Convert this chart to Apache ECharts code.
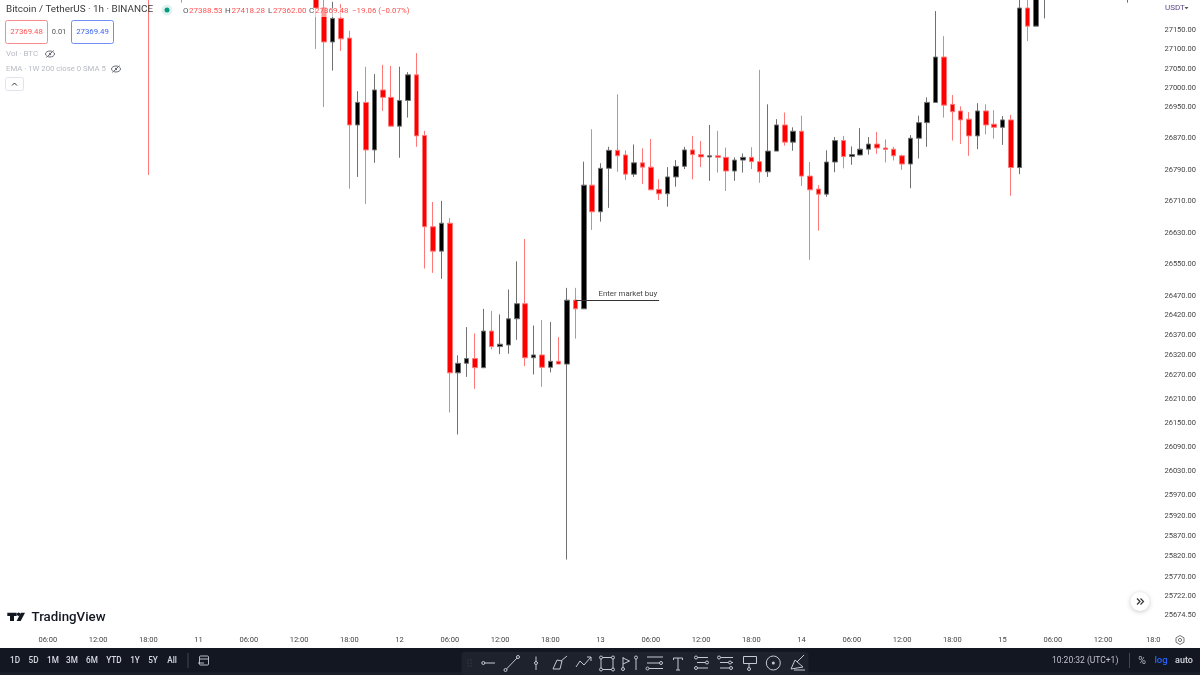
<!DOCTYPE html>
<html>
<head>
<meta charset="utf-8">
<title>BTCUSDT 1h</title>
<script src="https://cdn.jsdelivr.net/npm/echarts@6/dist/echarts.min.js"></script>
<style>
  html, body { margin: 0; padding: 0; background: #fff; }
  #chart { width: 1200px; height: 675px; }
</style>
</head>
<body>
<div id="chart"></div>
<script>
// price ticks on the right hand scale
const priceTicks = [27150, 27100, 27050, 27000, 26950, 26870, 26790, 26710, 26630, 26550, 26470, 26420, 26370,
  26320, 26270, 26210, 26150, 26090, 26030, 25970, 25920, 25870, 25820, 25770, 25722, 25674.5]

// time labels by hour slot, the last one is cut by the price scale in the reference
const timeTicks = {
  5: '06:00', 11: '12:00', 17: '18:00', 23: '11', 29: '06:00', 35: '12:00', 41: '18:00', 47: '12',
  53: '06:00', 59: '12:00', 65: '18:00', 71: '13', 77: '06:00', 83: '12:00', 89: '18:00', 95: '14',
  101: '06:00', 107: '12:00', 113: '18:00', 119: '15', 125: '06:00', 131: '12:00', 137: '18:0'
}

const hourSlots = 138
const firstCandle = 17 // slot of the first candle in the lists below

// hourly candles, null = bar not visible in the picture
const opens = [27330, null, null, null, 27300, null, null, null, null, null, null, null, null, null, null, null, null, null, null, null,
  27290, 27207, 27119, 27180, 27129, 26905, 26963, 26841, 26995, 26976, 26902, 26968, 27034, 26878, 26645, 26583, 26654,
  26276, 26300, 26312, 26289, 26381, 26342, 26346, 26412, 26450, 26314, 26321, 26290, 26305, 26298, 26459, 26437, 26751,
  26683, 26794, 26840, 26828, 26779, 26808, 26797, 26740, 26729, 26772, 26799, 26841, 26829, 26823, 26826, 26822, 26787, 26815, 26822, 26811,
  26785, 26838, 26905, 26861, 26889, 26774, 26741, 26728, 26810, 26865, 26824, 26828, 26843, 26856, 26846, 26843, 26826, 26805, 26871, 26911,
  26963, 27080, 26958, 26941, 26920, 26877, 26941, 26907, 26899, 26918, 26796, 27207, 27160, 27240,
  null, null, null, null, null, null, null, null, null, 27260]
const closes = [27260, null, null, null, 27260, null, null, null, null, null, null, null, null, null, null, null, null, null, null, null,
  27207, 27119, 27180, 27127, 26905, 26963, 26841, 26995, 26976, 26902, 26968, 27034, 26877, 26645, 26583, 26654, 26276,
  26300, 26312, 26289, 26381, 26342, 26348, 26412, 26450, 26314, 26321, 26290, 26305, 26298, 26459, 26437, 26751, 26683,
  26794, 26840, 26826, 26779, 26808, 26797, 26739, 26729, 26772, 26799, 26841, 26829, 26823, 26826, 26822, 26787, 26815, 26822, 26811, 26785,
  26838, 26905, 26861, 26889, 26774, 26739, 26728, 26810, 26865, 26824, 26829, 26843, 26856, 26846, 26842, 26826, 26805, 26871, 26911, 26963,
  27080, 26956, 26939, 26918, 26877, 26941, 26905, 26899, 26918, 26796, 27207, 27160, 27290, 27320,
  null, null, null, null, null, null, null, null, null, 27290]
const lows = [26777, null, null, null, 27221, null, null, null, null, null, null, null, null, null, null, null, null, null, null, null,
  27101, 26951, 27045, 27096, 26742, 26772, 26703, 26808, 26941, 26902, 26821, 26924, 26849, 26539, 26528, 26513, 26177,
  26122, 26266, 26236, 26289, 26335, 26323, 26324, 26359, 26293, 26272, 26241, 26277, 26298, 25812, 26362, 26437, 26637,
  26658, 26693, 26785, 26764, 26772, 26754, 26739, 26713, 26696, 26747, 26792, 26766, 26797, 26762, 26783, 26736, 26762, 26783, 26792, 26757,
  26772, 26838, 26852, 26839, 26749, 26561, 26635, 26721, 26784, 26794, 26803, 26827, 26829, 26831, 26809, 26814, 26790, 26743, 26819, 26849,
  26963, 26924, 26865, 26856, 26826, 26843, 26881, 26870, 26854, 26724, 26779, 27121, 27160, 27180,
  null, null, null, null, null, null, null, null, null, 27221]
const highs = [27360, null, null, null, 27320, null, null, null, null, null, null, null, null, null, null, null, null, null, null, null,
  27320, 27250, 27223, 27217, 27148, 26992, 27055, 27036, 27060, 27057, 27055, 27041, 27090, 26890, 26708, 26711, 26667,
  26320, 26391, 26375, 26437, 26432, 26423, 26486, 26557, 26614, 26395, 26409, 26404, 26366, 26490, 26490, 26811, 26894,
  26807, 26849, 26984, 26840, 26855, 26845, 26869, 26766, 26797, 26815, 26849, 26877, 26864, 26905, 26890, 26847, 26822, 26832, 26848, 27047,
  26958, 26920, 26937, 26899, 26929, 26810, 26751, 26840, 26874, 26877, 26850, 26897, 26874, 26887, 26868, 26849, 26829, 26879, 26929, 26976,
  27199, 27134, 26982, 26953, 26938, 26961, 26958, 26943, 26928, 26931, 27240, 27245, 27310, 27350,
  null, null, null, null, null, null, null, null, null, 27300]

// horizontal drawing on the chart
const entryPrice = 26459
const entrySlots = [68, 78]
const entryText = 'Enter market buy'

// toolbar text
const rangeButtons = [['1D', 15], ['5D', 33.5], ['1M', 53], ['3M', 72], ['6M', 92], ['YTD', 114], ['1Y', 135], ['5Y', 153], ['All', 172]]

const font = 'Roboto, sans-serif'
const wickRed = '#ff7878'
const wickBlack = '#707070'

const slots = []
for (let i = 0; i < hourSlots; i++) slots.push(i)

const candles = slots.map(i => {
  const n = i - firstCandle
  if (n < 0 || n >= opens.length || opens[n] === null) return ['-', '-', '-', '-']
  return [opens[n], closes[n], lows[n], highs[n]]
})

// small helpers for the TradingView chrome around the chart
const Z = 100
const text = (x, y, t, size, color, extra) => ({
  type: 'text', z: Z, silent: true, x, y,
  style: Object.assign({ text: t, font: size + 'px ' + font, fill: color, textVerticalAlign: 'middle', textAlign: 'left' }, extra || {})
})
const box = (x, y, w, h, fill, stroke, r) => ({
  type: 'rect', z: Z, silent: true, shape: { x, y, width: w, height: h, r: r || 0 },
  style: { fill: fill, stroke: stroke || null, lineWidth: 1 }
})
const line = (pts, color, w) => ({
  type: 'polyline', z: Z + 1, silent: true, shape: { points: pts },
  style: { stroke: color, lineWidth: w || 1, fill: null }
})
const dot = (x, y, r, fill, stroke) => ({
  type: 'circle', z: Z + 1, silent: true, shape: { cx: x, cy: y, r },
  style: { fill: fill, stroke: stroke || null, lineWidth: 1 }
})
const poly = (pts, fill) => ({
  type: 'polygon', z: Z + 1, silent: true, shape: { points: pts }, style: { fill: fill }
})
const eye = (x, y) => [
  { type: 'ellipse', z: Z, silent: true, shape: { cx: x, cy: y, rx: 4.5, ry: 3 }, style: { fill: null, stroke: '#6a6d78', lineWidth: 1 } },
  dot(x, y, 1.2, '#6a6d78'),
  line([[x - 3.5, y + 3.5], [x + 3.5, y - 3.5]], '#6a6d78', 1)
]

const iconColor = '#c4c8d2'
const ic = (pts) => line(pts, iconColor, 1)
const ring = (x, y, r) => dot(x, y, r || 1.5, '#1e222d', iconColor)

const chrome = [
  // legend backdrop over the candles
  box(178, 8, 206, 9, 'rgba(255,255,255,0.6)'),
  text(6, 10, 'Bitcoin / TetherUS · 1h · BINANCE', 9.9, '#3a3a3a'),
  dot(167, 10, 5.5, '#dff2ee'),
  dot(167, 10, 2.5, '#089981'),
  text(183, 11, 'O', 8, '#555'),
  text(189, 11, '27388.53', 8, '#ff5252'),
  text(225, 11, 'H', 8, '#555'),
  text(231.5, 11, '27418.28', 8, '#ff5252'),
  text(268, 11, 'L', 8, '#555'),
  text(273, 11, '27362.00', 8, '#ff5252'),
  text(309, 11, 'C', 8, '#555'),
  text(315, 11, '27369.48', 8, '#ff5252'),
  text(352, 11, '−19.06 (−0.07%)', 7.9, '#ff5252'),
  box(5.5, 20.5, 42, 23, '#fff', '#f58a92', 2),
  text(26.5, 32, '27369.48', 7.8, '#ff5252', { textAlign: 'center' }),
  text(59, 32, '0.01', 7.5, '#555', { textAlign: 'center' }),
  box(71.5, 20.5, 42, 23, '#fff', '#6f8ff5', 2),
  text(92.5, 32, '27369.49', 7.8, '#3d63f0', { textAlign: 'center' }),
  text(6, 54, 'Vol · BTC', 8, '#b8bbc4'),
  ...eye(50, 54),
  text(6, 69, 'EMA · 1W 200 close 0 SMA 5', 7.75, '#b8bbc4'),
  ...eye(116, 69),
  box(5.5, 77.5, 18, 13, '#fff', '#e0e3eb', 2),
  line([[12, 85.5], [14.5, 83], [17, 85.5]], '#333', 1),

  // TradingView mark
  poly([[7.3, 612.7], [16.7, 612.7], [16.7, 616], [14, 616], [14, 621], [10, 621], [10, 616], [7.3, 616]], '#131722'),
  dot(18.6, 614.3, 1.7, '#131722'),
  poly([[20.8, 612.7], [25, 612.7], [20.7, 621], [16.6, 621]], '#131722'),
  text(31.5, 617.5, 'TradingView', 13.3, '#131722', { font: '500 13.3px ' + font }),

  // scroll button, currency and gear
  dot(1140, 601.5, 9.5, '#fff'),
  text(1165, 8, 'USDT', 8, '#5b4a8a'),
  poly([[1184.5, 7], [1188.5, 7], [1186.5, 9.2]], '#555'),
  { type: 'polygon', z: Z, silent: true, shape: { points: [[1180, 635.5], [1184, 637.8], [1184, 642.2], [1180, 644.5], [1176, 642.2], [1176, 637.8]] }, style: { fill: null, stroke: '#777', lineWidth: 1 } },
  dot(1180, 640, 1.6, null, '#777'),

  // bottom toolbar
  box(0, 648, 1200, 27, '#131722'),
  box(0, 672, 1200, 3, '#1a1e29'),
  box(461.5, 652, 347, 23, '#1e222d', null, 3),
  ...rangeButtons.map(b => text(b[1], 661, b[0], 8.2, '#d6d9e0', { textAlign: 'center', font: '500 8.2px ' + font })),
  box(187.5, 653, 1, 15, '#434651'),
  box(199.5, 656, 9, 9, null, '#b8bcc6', 1),
  line([[199, 659], [209, 659]], '#b8bcc6'),
  line([[198, 663], [204, 663]], '#b8bcc6'),
  text(1052, 661, '10:20:32 (UTC+1)', 8.5, '#c0c3cc'),
  box(1129, 653, 1, 15, '#434651'),
  text(1142, 661, '%', 10.5, '#b8bcc6', { textAlign: 'center' }),
  text(1161, 661, 'log', 9.5, '#2962ff', { textAlign: 'center', font: '500 9.5px ' + font }),
  text(1184, 661, 'auto', 9, '#d6d9e0', { textAlign: 'center', font: '500 9px ' + font }),

  // drawing tools
  dot(468, 660, 0.6, '#50535e'), dot(471, 660, 0.6, '#50535e'), dot(468, 663, 0.6, '#50535e'),
  dot(471, 663, 0.6, '#50535e'), dot(468, 666, 0.6, '#50535e'), dot(471, 666, 0.6, '#50535e'),
  ic([[483, 663], [495, 663]]), ring(483.3, 663),
  ic([[505.5, 670], [518, 657]]), ring(505.5, 670), ring(518, 657),
  ic([[536, 656.5], [536, 670]]), ring(536, 663),
  ic([[553, 669], [557, 660], [562, 661], [560, 669], [553, 669]]), ic([[561, 661], [567, 656]]),
  ic([[576, 667], [580, 661], [584, 665], [591, 657]]), ic([[587, 657], [591, 657], [591, 661]]),
  box(601, 657.5, 12, 12, null, iconColor),
  ring(601, 657.5), ring(613, 657.5), ring(601, 669.5), ring(613, 669.5),
  ic([[623, 657], [623, 670]]), ic([[623, 658], [629.5, 661], [623, 664]]), ring(623, 669),
  ic([[636, 659], [636, 670]]), ring(636, 657.5),
  ic([[647, 657], [663, 657]]), ic([[647, 663], [661, 663]]), ic([[649, 668.5], [663, 668.5]]), ring(661, 663), ring(647.5, 668.5),
  ic([[673.5, 658], [682.5, 658]]), ic([[678, 658], [678, 670]]), ic([[676, 670], [680, 670]]), ic([[673.5, 658], [673.5, 660]]), ic([[682.5, 658], [682.5, 660]]),
  ic([[697, 657.5], [708, 657.5]]), ic([[697, 662.5], [708, 662.5]]), ic([[697, 668], [708, 668]]), ring(696, 657.5), ring(696, 668), ring(707, 662.5),
  ic([[720, 657.5], [733, 657.5]]), ic([[720, 662.5], [733, 662.5]]), ic([[720, 668], [733, 668]]), ring(719, 657.5), ring(730, 662.5), ring(731, 668),
  box(743.5, 656.5, 13, 7, null, iconColor), ic([[749, 664], [749, 670]]), ring(749, 669),
  dot(773.3, 663, 7, null, iconColor), dot(773.3, 663, 1.5, iconColor),
  ic([[791, 669], [795, 660], [803, 667], [791, 669]]), ic([[797, 662], [804, 655]]), ic([[794, 670], [805, 670]])
]

// the two chevrons of the scroll button
chrome.push(line([[1137, 598.5], [1140, 601.5], [1137, 604.5]], '#333', 1.2))
chrome.push(line([[1140.5, 598.5], [1143.5, 601.5], [1140.5, 604.5]], '#333', 1.2))
chrome.find(el => el.type === 'circle' && el.shape.r === 9.5).style = {
  fill: '#fff', shadowBlur: 5, shadowColor: 'rgba(0,0,0,0.22)', shadowOffsetY: 1
}

const chart = echarts.init(document.getElementById('chart'), null, { renderer: 'canvas' })

chart.setOption({
  animation: false,
  backgroundColor: '#fff',
  textStyle: { fontFamily: font },
  grid: { left: 1.7, right: 42.55, top: 0, bottom: 47, containLabel: false },
  xAxis: {
    type: 'category',
    data: slots,
    axisLine: { show: false },
    axisTick: { show: false },
    splitLine: { show: false },
    axisLabel: {
      interval: 0,
      margin: 8,
      hideOverlap: false,
      color: '#444',
      fontSize: 7.5,
      fontFamily: font,
      formatter: value => timeTicks[value] || ''
    }
  },
  yAxis: {
    type: 'log',
    logBase: 10,
    position: 'right',
    min: 25644,
    max: 27227.8,
    scale: true,
    axisLine: { show: false },
    axisTick: { show: false },
    splitLine: { show: false },
    minorTick: { show: false },
    minorSplitLine: { show: false },
    axisLabel: {
      customValues: priceTicks,
      margin: 7,
      padding: [1.5, 0, 0, 0],
      color: '#444',
      fontSize: 7.5,
      fontFamily: font,
      formatter: value => Number(value).toFixed(2)
    }
  },
  series: [{
    type: 'candlestick',
    data: candles,
    barWidth: 5,
    clip: true,
    silent: true,
    itemStyle: {
      color: '#000000',
      color0: '#ff0000',
      borderColor: wickBlack,
      borderColor0: wickRed,
      borderWidth: 1
    },
    markLine: {
      silent: true,
      symbol: 'none',
      animation: false,
      lineStyle: { color: '#333', width: 1, type: 'solid' },
      label: {
        show: true,
        position: 'insideEndTop',
        formatter: entryText,
        color: '#444',
        fontSize: 7.8,
        fontFamily: font,
        distance: 2
      },
      data: [[
        { coord: [entrySlots[0], entryPrice] },
        { coord: [entrySlots[1], entryPrice] }
      ]]
    }
  }],
  graphic: { elements: chrome }
})
</script>
</body>
</html>
